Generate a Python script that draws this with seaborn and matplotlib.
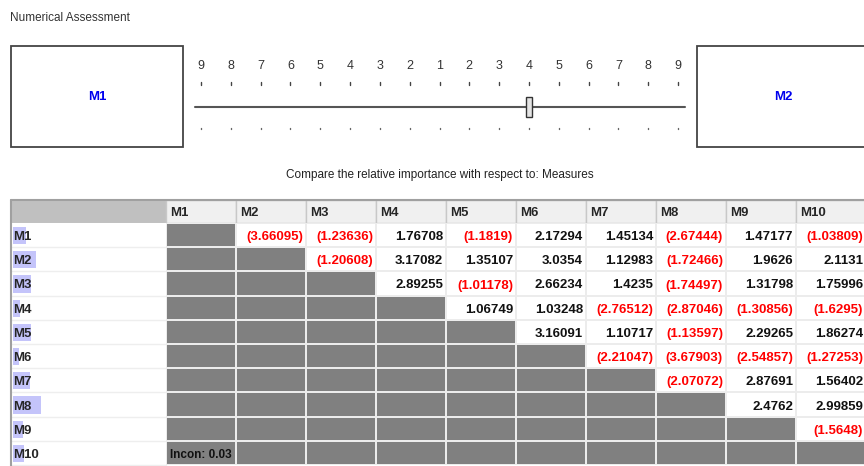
import numpy as np
import matplotlib
matplotlib.use("Agg")
import matplotlib.pyplot as plt
from matplotlib.colors import ListedColormap
from matplotlib.patches import Rectangle
import seaborn as sns

sns.set_style("white")
plt.rcParams['font.family'] = ['Liberation Sans Narrow', 'Liberation Sans', 'DejaVu Sans']

# data
measures = ['M1', 'M2', 'M3', 'M4', 'M5', 'M6', 'M7', 'M8', 'M9', 'M10']
# upper triangle, row by row (negative = inverse judgement, shown red in brackets)
row_m1 = [-3.66095, -1.23636, 1.76708, -1.1819, 2.17294, 1.45134, -2.67444, 1.47177, -1.03809]
row_m2 = [-1.20608, 3.17082, 1.35107, 3.0354, 1.12983, -1.72466, 1.9626, 2.1131]
row_m3 = [2.89255, -1.01178, 2.66234, 1.4235, -1.74497, 1.31798, 1.75996]
row_m4 = [1.06749, 1.03248, -2.76512, -2.87046, -1.30856, -1.6295]
row_m5 = [3.16091, 1.10717, -1.13597, 2.29265, 1.86274]
row_m6 = [-2.21047, -3.67903, -2.54857, -1.27253]
row_m7 = [-2.07072, 2.87691, 1.56402]
row_m8 = [2.4762, 2.99859]
row_m9 = [-1.5648]
upper_rows = [row_m1, row_m2, row_m3, row_m4, row_m5, row_m6, row_m7, row_m8, row_m9, []]
inconsistency = 0.03
# lavender bars behind row labels
label_bars = [13, 23, 18, 7, 18, 6, 17, 28, 10, 11]
scale_labels = [9, 8, 7, 6, 5, 4, 3, 2, 1, 2, 3, 4, 5, 6, 7, 8, 9]
slider_pos = 11
left_item, right_item = 'M1', 'M2'

n = len(measures)
shade = np.ones((n, n))
for i in range(n):
    shade[i, i + 1:] = 0

fig = plt.figure(figsize=(8.64, 4.66), dpi=100)
bg = fig.add_axes([0, 0, 1, 1])
bg.set_xlim(0, 864)
bg.set_ylim(466, 0)
bg.axis('off')

bg.text(10, 18, 'Numerical Assessment', fontsize=8.5, color='#333333', va='center')

# comparison boxes
bg.add_patch(Rectangle((11, 46), 172, 101, fc='white', ec='#444444', lw=1.3))
bg.add_patch(Rectangle((697, 46), 180, 101, fc='white', ec='#444444', lw=1.3))
bg.text(97, 97, left_item, color='#0000ee', fontsize=9.5, weight='bold', ha='center', va='center')
bg.text(783, 97, right_item, color='#0000ee', fontsize=9.5, weight='bold', ha='center', va='center')

# slider scale
xs = np.linspace(201, 678, len(scale_labels))
for k, (x, lab) in enumerate(zip(xs, scale_labels)):
    bg.text(x, 66, str(lab), fontsize=9, color='#333333', ha='center', va='center')
    bg.plot([x, x], [81.5, 84.5], color='#444444', lw=1)
    bg.plot([x, x], [127.5, 128.5], color='#666666', lw=1)
bg.plot([195, 685], [107, 107], color='#555555', lw=1.5)
bg.add_patch(Rectangle((xs[slider_pos] - 3, 97), 6, 20, fc='#e4e4e4', ec='#333333', lw=1, zorder=5))

bg.text(440, 175, 'Compare the relative importance with respect to: Measures',
        fontsize=8.5, color='#222222', ha='center', va='center')

# table header
bg.add_patch(Rectangle((11, 200), 155, 23, fc='#c0c0c0', ec='#c8c8c8', lw=1))
for j, m in enumerate(measures):
    bg.add_patch(Rectangle((166 + 70 * j, 200), 70, 23, fc='#f0f0f0', ec='#c8c8c8', lw=1))
    bg.text(170 + 70 * j, 213, m, fontsize=9.5, weight='bold', va='center')
bg.plot([11, 864], [200, 200], color='#a0a0a0', lw=1.5)

# row label column
rh = 242 / n
bg.add_patch(Rectangle((11, 223), 155, 242, fc='white', ec='none'))
for i, m in enumerate(measures):
    y0 = 223 + rh * i
    bg.plot([11, 166], [y0 + rh, y0 + rh], color='#eeeeee', lw=1)
    bg.add_patch(Rectangle((13, y0 + 4), label_bars[i], rh - 7, fc='#c4c4fa', ec='none'))
    bg.text(13, y0 + rh / 2 + 2, m, fontsize=9.5, weight='bold', va='center')
bg.plot([11, 11], [200, 466], color='#a0a0a0', lw=1.5)

# matrix
ax = fig.add_axes([166 / 864, 1 / 466, 700 / 864, 242 / 466])
sns.heatmap(shade, ax=ax, cmap=ListedColormap(['white', '#808080']), vmin=0, vmax=1,
            cbar=False, linewidths=1.2, linecolor='#ececec',
            xticklabels=False, yticklabels=False)
for i, row in enumerate(upper_rows):
    for k, v in enumerate(row):
        j = i + 1 + k
        if v < 0:
            s, c = '({:g})'.format(-v), '#ff0000'
        else:
            s, c = '{:g}'.format(v), '#111111'
        ax.text(j + 1 - 3 / 70, i + 0.5 + 2 / rh, s, color=c, fontsize=9.5,
                weight='bold', ha='right', va='center')
ax.text(0.05, n - 0.5 + 2 / rh, 'Incon: {:.2f}'.format(inconsistency), color='#111111',
        fontsize=8.5, weight='bold', va='center')

fig.savefig('out.png', dpi=100)
